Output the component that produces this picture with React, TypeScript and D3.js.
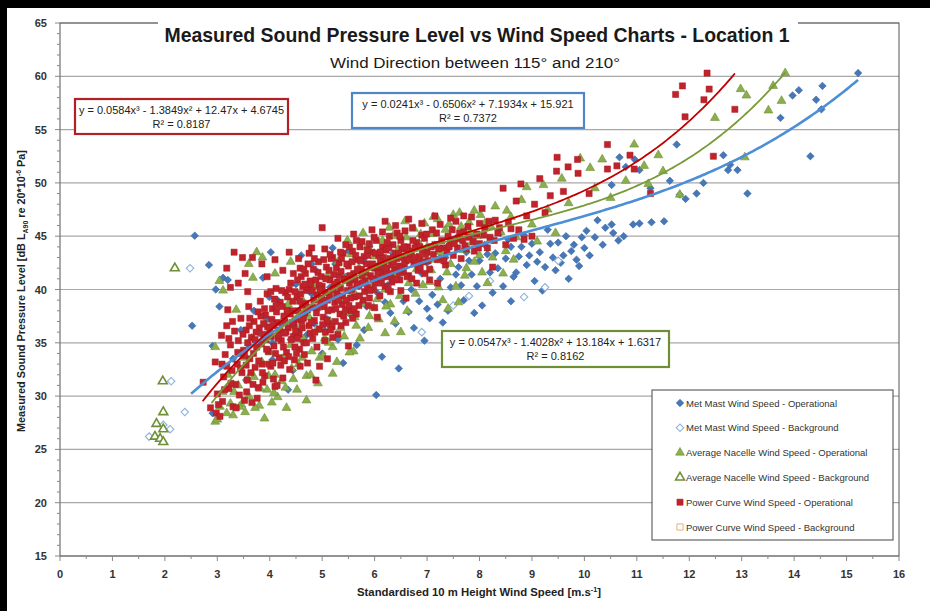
import * as d3 from "d3";

// ---- data (x = wind speed m/s, y = dB) ----
const metMastOp: [number, number][] = [
  [2.57, 45.05], [2.84, 42.3], [2.52, 36.6], [3.11, 41.1], [3.2, 40.9], [2.97, 40.0], [3.04, 38.4], [2.91, 34.7],
  [2.91, 28.4], [4.02, 43.5], [3.87, 41.1], [3.99, 39.3], [4.35, 30.6], [4.44, 32.4],
  [3.3, 33.5], [3.45, 36.2], [3.6, 34.8], [3.7, 38.0], [3.8, 35.9], [3.95, 37.2], [4.05, 35.0], [4.15, 39.0],
  [4.25, 36.8], [4.35, 38.2], [4.5, 40.5], [4.6, 37.6], [4.7, 35.7], [4.8, 39.6], [4.9, 41.7], [5.0, 38.4],
  [5.05, 36.1], [5.15, 40.2], [5.25, 42.4], [5.3, 35.3], [5.35, 39.0], [5.45, 41.2], [5.55, 37.6], [5.66, 34.8],
  [5.7, 40.3], [5.8, 42.6], [5.85, 38.4], [5.95, 41.0], [6.03, 30.1], [6.05, 39.7], [6.14, 33.7], [6.15, 42.1],
  [6.25, 40.4], [6.3, 37.8], [6.35, 43.4], [6.46, 32.6], [6.45, 41.1], [6.55, 38.9], [6.6, 42.7], [6.7, 40.0],
  [6.75, 36.4], [6.8, 43.9], [6.9, 41.5], [6.95, 35.2], [7.0, 42.5], [7.1, 39.5], [7.15, 44.2], [7.25, 41.0],
  [7.3, 36.9], [7.35, 43.0], [7.45, 40.2], [7.5, 44.6], [7.6, 42.1], [7.7, 39.0], [7.75, 43.5], [7.85, 41.4],
  [7.9, 45.0], [8.0, 42.7], [8.05, 38.5], [8.1, 44.2], [8.2, 41.6], [8.3, 43.4], [8.4, 45.3], [8.45, 40.3],
  [8.5, 42.9], [8.6, 44.0], [8.65, 41.2], [8.75, 43.1], [8.85, 45.1], [8.9, 42.3], [9.0, 44.3], [9.05, 40.8],
  [9.15, 43.5], [9.25, 42.1], [9.3, 45.6], [9.4, 43.0], [9.5, 44.4], [9.55, 42.5], [9.65, 45.0], [9.75, 43.6],
  [9.85, 42.8], [9.95, 44.9], [10.04, 45.5], [10.1, 43.2], [10.25, 46.5], [10.35, 44.2], [10.52, 46.1],
  [10.55, 45.3], [10.75, 45.0], [10.52, 49.8], [10.67, 52.4], [10.79, 51.5], [10.93, 46.1], [10.96, 52.2],
  [11.05, 46.2], [11.05, 51.2], [11.26, 49.5], [11.28, 46.3], [11.52, 46.4], [11.63, 50.2], [11.76, 53.6],
  [11.82, 48.9], [11.93, 48.5], [12.14, 49.0], [12.27, 50.0], [12.65, 52.6], [12.74, 51.2], [12.78, 51.7],
  [12.92, 51.2], [13.11, 49.0], [13.74, 56.1], [13.97, 58.2], [14.09, 58.7], [14.31, 52.5], [14.42, 57.8],
  [14.52, 56.9], [14.54, 59.1], [15.22, 60.3],
  [5.5, 43.6], [5.9, 44.0], [6.5, 44.8], [4.6, 43.2], [4.8, 42.4], [5.2, 43.9], [5.0, 34.0], [5.4, 33.1],
  [5.8, 36.2], [7.9, 37.8], [8.6, 38.9], [9.2, 39.9], [9.7, 41.0], [7.0, 38.2],
  [7.25, 43.0], [7.55, 41.4], [7.8, 42.7], [8.15, 43.3], [8.35, 42.0], [8.55, 44.7], [8.8, 44.0], [8.95, 43.2],
  [9.1, 42.6], [9.35, 44.3], [9.45, 41.8], [9.6, 43.2], [9.8, 44.2], [9.9, 42.2], [10.0, 43.9], [10.2, 44.9],
  [10.4, 45.8], [10.65, 44.6], [6.2, 38.8], [6.4, 36.8], [6.65, 37.9], [6.85, 38.9], [7.05, 37.3], [7.2, 38.6],
  [7.4, 38.0], [7.65, 40.4], [7.95, 40.3], [8.25, 39.7], [8.7, 41.6], [5.1, 37.2], [5.6, 39.4], [4.4, 35.3],
  [4.05, 33.4], [3.55, 31.5], [4.85, 36.8],
];

const metMastBg: [number, number][] = [
  [2.48, 42.0], [2.12, 31.4], [2.38, 28.5], [1.97, 27.3], [2.1, 26.9], [1.7, 26.2], [6.9, 36.0], [7.8, 39.4],
  [8.85, 39.3], [9.25, 40.2], [8.2, 40.8], [7.5, 38.5], [9.5, 42.7],
];

const nacelleOp: [number, number][] = [
  [2.96, 27.6], [3.3, 28.2], [3.46, 29.2], [3.53, 28.5], [4.04, 29.4], [2.96, 34.6], [3.36, 38.1], [3.11, 39.9],
  [3.04, 40.8], [3.68, 41.1], [3.75, 43.5], [3.86, 43.0],
  [3.1, 30.4], [3.2, 32.0], [3.25, 29.3], [3.4, 31.0], [3.5, 33.6], [3.6, 30.0], [3.65, 35.4], [3.7, 31.8],
  [3.8, 29.1], [3.85, 33.2], [3.9, 36.7], [3.95, 30.6], [4.0, 34.1], [4.1, 32.0], [4.15, 29.9], [4.2, 36.2],
  [4.25, 33.5], [4.3, 30.8], [4.35, 38.6], [4.4, 34.8], [4.45, 31.6], [4.5, 36.5], [4.55, 33.0], [4.6, 39.2],
  [4.65, 35.3], [4.7, 31.9], [4.75, 37.4], [4.8, 34.2], [4.85, 40.2], [4.9, 36.2], [4.95, 33.6],
  [5.0, 38.4], [5.05, 35.4], [5.1, 41.3], [5.15, 37.0], [5.2, 34.6], [5.25, 39.4], [5.3, 42.6], [5.35, 36.4],
  [5.4, 38.9], [5.45, 41.0], [5.5, 37.8], [5.55, 43.3], [5.6, 39.8], [5.65, 36.6], [5.7, 42.0], [5.75, 38.7],
  [5.8, 41.1], [5.85, 44.0], [5.9, 37.5], [5.95, 40.3],
  [6.0, 43.1], [6.05, 39.1], [6.1, 41.8], [6.15, 44.6], [6.2, 40.0], [6.25, 42.7], [6.3, 38.6], [6.35, 45.0],
  [6.4, 41.4], [6.45, 43.8], [6.5, 36.0], [6.55, 42.2], [6.6, 44.9], [6.65, 40.6], [6.7, 43.3], [6.75, 45.7],
  [6.8, 41.9], [6.85, 44.3], [6.9, 42.6], [6.95, 46.2],
  [7.0, 44.0], [7.05, 40.7], [7.1, 45.2], [7.15, 42.8], [7.2, 46.6], [7.25, 43.5], [7.3, 39.0], [7.35, 45.6],
  [7.4, 44.1], [7.45, 42.4], [7.5, 47.0], [7.55, 44.7], [7.6, 38.8], [7.65, 45.9], [7.7, 43.7], [7.75, 42.0],
  [7.8, 46.3], [7.85, 44.4], [7.9, 47.4], [7.95, 45.0],
  [8.0, 43.2], [8.1, 46.2], [8.2, 44.6], [8.3, 47.8], [8.4, 45.4], [8.5, 43.6], [8.6, 46.8], [8.7, 44.9],
  [8.8, 48.4], [8.9, 49.6], [9.0, 46.1], [9.1, 44.5], [9.22, 49.8], [9.3, 47.5], [9.45, 45.3], [9.57, 50.4],
  [9.7, 48.1], [9.92, 52.3], [10.11, 51.4], [10.2, 49.5], [10.34, 52.2], [10.5, 48.6], [10.79, 50.2],
  [10.95, 53.6], [11.14, 51.6], [11.22, 49.9], [11.41, 52.6], [11.5, 51.1], [11.82, 48.9], [12.49, 56.1],
  [12.98, 58.8], [13.09, 58.2], [13.06, 52.4], [13.51, 56.8], [13.6, 59.1], [13.76, 57.7], [13.83, 60.3],
  [3.9, 27.9], [3.0, 27.8], [7.4, 38.2], [5.6, 34.2], [6.2, 35.9], [8.15, 40.6], [4.7, 29.6], [5.2, 32.1],
  [3.05, 29.0], [3.18, 28.4], [3.32, 30.4], [3.42, 29.0], [3.58, 31.6], [3.72, 28.9], [3.82, 30.7], [3.98, 31.9],
  [4.08, 30.3], [4.22, 31.4], [4.32, 28.9], [4.42, 32.6], [4.52, 30.6], [4.62, 33.6], [4.78, 32.0], [4.92, 31.2],
  [5.02, 33.8], [5.12, 35.0], [5.28, 33.2], [5.42, 35.6], [5.52, 34.1], [5.62, 37.4], [5.72, 35.4], [5.88, 36.4],
  [5.98, 38.3], [6.08, 37.2], [6.22, 38.4], [6.38, 37.0], [6.48, 39.4], [6.62, 38.0], [6.78, 39.6], [6.92, 40.4],
  [7.08, 41.8], [7.22, 40.2], [7.38, 41.6], [7.55, 40.3], [7.72, 41.3], [7.9, 42.6], [8.05, 41.6], [8.25, 43.0],
  [8.45, 41.5], [8.65, 42.8], [6.28, 45.8], [6.58, 46.4], [6.88, 45.2], [7.12, 46.8], [7.42, 46.1], [7.62, 47.2],
  [7.82, 45.4], [8.02, 47.0], [8.22, 45.9], [8.52, 47.4], [5.48, 44.6], [5.78, 45.3], [4.4, 42.6], [4.1, 41.5],
  [3.6, 42.4],
];

const nacelleBg: [number, number][] = [
  [2.19, 42.0], [1.96, 31.4], [1.97, 28.5], [1.84, 27.4], [1.97, 26.9], [1.81, 26.2], [1.91, 26.0], [1.97, 25.7],
];

const powerCurveOp: [number, number][] = [
  [2.73, 31.3], [2.87, 28.9], [2.98, 28.4], [3.05, 28.1], [2.96, 33.2], [3.08, 35.7], [3.18, 36.6], [3.2, 38.1],
  [3.0, 30.2], [3.1, 29.5], [3.12, 31.8], [3.15, 33.9], [3.22, 30.7], [3.25, 34.8], [3.28, 32.4], [3.3, 29.0],
  [3.33, 36.1], [3.35, 31.1], [3.38, 33.0], [3.4, 35.2], [3.42, 30.1], [3.45, 37.3], [3.47, 32.2], [3.5, 34.3],
  [3.52, 29.6], [3.55, 36.2], [3.57, 31.5], [3.6, 38.4], [3.62, 33.5], [3.65, 35.5], [3.66, 29.4], [3.7, 37.0],
  [3.72, 32.7], [3.75, 34.6], [3.78, 30.8], [3.8, 36.4], [3.82, 38.9], [3.85, 33.0], [3.88, 35.8], [3.9, 31.9],
  [3.92, 37.6], [3.95, 39.6], [3.97, 34.2],
  [3.18, 42.0], [3.32, 43.5], [3.48, 43.0], [3.67, 43.0], [3.53, 41.5], [3.25, 40.2], [3.58, 39.8], [3.85, 42.4],
  [4.37, 43.5], [4.1, 42.8], [3.95, 41.2], [4.25, 41.8], [3.4, 40.6],
  [4.0, 36.0], [4.02, 32.8], [4.05, 38.2], [4.08, 34.7], [4.1, 30.9], [4.12, 40.1], [4.15, 36.9], [4.18, 33.6],
  [4.2, 38.8], [4.22, 35.2], [4.25, 31.7], [4.27, 37.5], [4.3, 39.7], [4.32, 34.1], [4.35, 36.4], [4.38, 32.5],
  [4.4, 40.6], [4.42, 38.0], [4.45, 35.6], [4.47, 33.4], [4.5, 37.2], [4.52, 39.3], [4.55, 36.0], [4.57, 34.4],
  [4.6, 41.2], [4.62, 38.5], [4.65, 35.0], [4.67, 37.8], [4.7, 39.9], [4.72, 33.1], [4.75, 36.6], [4.77, 40.8],
  [4.8, 38.3], [4.82, 35.4], [4.85, 37.1], [4.88, 31.5], [4.9, 39.5], [4.92, 41.6], [4.95, 36.3], [4.97, 38.7],
  [5.0, 40.3], [5.02, 37.4], [5.05, 35.2], [5.08, 42.1], [5.1, 39.0], [5.12, 36.8], [5.15, 40.9], [5.18, 38.1],
  [5.2, 43.0], [5.22, 41.4], [5.25, 37.0], [5.28, 39.6], [5.3, 35.8], [5.32, 42.5], [5.35, 40.1], [5.38, 38.6],
  [5.4, 43.4], [5.42, 41.0], [5.45, 36.9], [5.48, 39.9], [5.5, 42.2], [5.52, 40.6], [5.55, 38.0], [5.58, 43.6],
  [5.6, 41.5], [5.62, 39.3], [5.65, 37.7], [5.68, 42.8], [5.7, 40.4], [5.72, 44.0], [5.75, 41.9], [5.78, 39.0],
  [5.8, 43.1], [5.82, 40.8], [5.85, 42.4], [5.88, 38.5], [5.9, 44.3], [5.92, 41.3], [5.95, 43.5], [5.98, 40.0],
  [6.0, 42.0], [6.03, 44.6], [6.05, 40.9], [6.08, 43.2], [6.1, 39.4], [6.12, 41.7], [6.15, 44.0], [6.18, 42.5],
  [6.2, 40.3], [6.22, 43.7], [6.25, 41.2], [6.28, 45.0], [6.3, 42.9], [6.33, 40.7], [6.35, 44.2], [6.38, 41.9],
  [6.4, 43.4], [6.43, 45.3], [6.45, 42.2], [6.48, 40.9], [6.5, 44.6], [6.53, 43.0], [6.55, 41.6], [6.58, 45.5],
  [6.6, 42.7], [6.63, 44.0], [6.65, 41.3], [6.7, 43.6], [6.72, 45.8], [6.75, 42.4], [6.8, 44.4], [6.83, 41.8],
  [6.85, 43.1], [6.9, 45.1], [6.93, 42.6], [6.95, 44.8],
  [7.0, 43.5], [7.05, 41.9], [7.1, 45.6], [7.15, 44.2], [7.2, 42.8], [7.25, 46.1], [7.3, 43.9], [7.35, 42.3],
  [7.4, 45.0], [7.45, 44.5], [7.5, 43.2], [7.55, 46.4], [7.6, 44.8], [7.65, 42.9], [7.7, 45.4], [7.75, 43.8],
  [7.8, 44.9], [7.85, 46.8], [7.9, 43.6], [7.95, 45.2],
  [8.0, 44.3], [8.05, 47.6], [8.1, 45.8], [8.15, 43.9], [8.2, 44.9], [8.3, 46.5], [8.35, 45.3], [8.45, 49.5],
  [8.5, 44.2], [8.6, 45.7], [8.7, 48.3], [8.79, 49.9], [8.85, 44.7], [8.9, 46.9], [9.0, 45.0], [9.05, 48.0],
  [9.15, 50.4], [9.25, 47.2], [9.47, 51.1], [9.48, 52.4], [9.69, 51.5], [9.87, 52.2], [9.88, 50.9], [9.6, 49.2],
  [9.35, 48.8], [10.09, 49.0], [10.44, 51.3], [10.44, 53.6], [10.62, 51.6], [10.87, 52.6], [10.95, 51.3],
  [11.26, 49.0], [11.74, 58.3], [11.87, 59.1], [11.92, 56.2], [12.28, 57.8], [12.34, 60.3], [12.38, 58.8],
  [12.46, 52.5], [12.87, 56.9],
  [5.1, 33.5], [5.5, 34.7], [4.95, 32.8], [6.05, 37.4], [6.6, 39.2], [7.2, 40.6], [8.25, 42.1],
  [5.0, 45.8], [5.3, 44.8], [5.6, 45.2], [6.2, 46.4], [4.8, 43.9],
  [3.52, 33.8], [3.58, 35.0], [3.64, 32.2], [3.69, 34.0], [3.74, 36.0], [3.79, 33.3], [3.84, 34.9], [3.87, 31.3],
  [3.93, 35.3], [3.98, 33.0], [4.03, 35.6], [4.07, 31.6], [4.11, 34.0], [4.16, 35.4], [4.21, 32.9], [4.26, 34.6],
  [4.31, 36.0], [4.36, 33.7], [4.41, 35.3], [4.46, 36.7], [4.51, 34.0], [4.56, 35.8], [4.61, 37.0], [4.66, 33.9],
  [3.83, 37.5], [3.9, 38.2], [3.96, 36.5], [4.04, 37.2], [4.09, 39.1], [4.13, 37.9], [4.19, 36.2], [4.24, 38.4],
  [4.29, 37.0], [4.34, 39.3], [4.39, 37.7], [4.44, 38.9], [4.49, 36.1], [4.54, 38.0], [4.59, 39.6], [4.64, 37.3],
  [4.69, 38.7], [4.74, 40.2], [4.79, 36.9], [4.84, 39.0], [4.89, 37.8], [4.94, 40.4], [4.99, 39.2], [5.04, 38.4],
  [5.09, 37.1], [5.14, 39.5], [5.19, 36.5], [5.24, 38.8], [5.29, 40.7], [5.34, 37.7], [5.39, 39.4], [5.44, 38.1],
  [5.49, 40.9], [5.54, 39.2],
  [4.53, 40.9], [4.58, 42.0], [4.63, 40.3], [4.68, 41.5], [4.73, 42.4], [4.78, 40.5], [4.83, 41.9], [4.88, 40.9],
  [4.93, 42.6], [4.98, 41.2], [5.03, 42.8], [5.07, 41.0], [5.13, 41.8], [5.17, 42.9], [5.23, 40.5], [5.27, 42.0],
  [5.33, 41.3], [5.37, 42.9], [5.43, 40.9], [5.47, 42.4], [5.53, 41.3], [5.57, 42.6], [5.63, 40.9], [5.67, 41.9],
  [5.73, 42.7], [5.77, 40.6], [5.83, 41.6], [5.87, 43.2], [5.93, 42.1], [5.97, 41.0], [6.02, 43.4], [6.07, 42.2],
  [6.13, 40.6], [6.17, 43.0], [6.23, 41.8], [6.27, 43.9], [6.32, 42.3], [6.37, 40.9], [6.42, 42.9], [6.47, 41.6],
  [6.52, 43.8], [6.57, 42.4], [6.62, 41.2], [6.67, 43.2], [6.77, 43.9], [6.87, 42.1], [6.97, 43.3],
  [5.52, 44.0], [5.64, 43.2], [5.76, 44.5], [5.86, 43.7], [5.99, 44.9], [6.11, 43.5], [6.24, 44.4], [6.36, 43.0],
  [6.48, 45.0], [6.61, 43.8], [6.73, 44.6], [6.86, 44.0], [6.99, 45.2], [7.08, 44.0], [7.18, 45.3], [7.28, 44.6],
  [7.38, 43.6], [7.48, 45.6], [7.58, 43.9], [7.68, 44.6], [7.78, 45.9], [7.88, 44.5], [7.98, 43.9], [8.08, 45.1],
  [8.18, 46.4], [8.28, 44.6], [8.38, 45.8], [8.55, 46.3], [8.65, 44.8], [8.75, 45.6],
  [3.02, 29.2], [3.14, 30.6], [3.26, 31.2], [3.36, 28.9], [3.44, 32.6], [3.56, 30.4], [3.68, 31.1], [3.76, 29.8],
  [3.86, 32.2], [4.06, 33.1], [4.14, 31.0], [4.28, 33.3], [4.48, 34.6], [4.58, 32.8], [4.7, 35.0], [4.9, 34.6],
  [5.06, 36.0], [5.2, 35.5], [5.36, 36.6], [5.58, 37.3], [5.7, 38.5], [5.9, 39.2], [6.0, 38.3], [6.3, 39.8],
  [6.5, 39.9], [6.8, 40.6], [7.05, 40.9],
  [4.02, 39.8], [4.07, 36.6], [4.12, 38.5], [4.17, 35.7], [4.23, 39.9], [4.28, 35.9], [4.33, 38.0], [4.37, 40.0],
  [4.43, 36.9], [4.48, 39.8], [4.53, 35.4], [4.57, 38.9], [4.62, 36.4], [4.67, 40.5], [4.72, 38.1], [4.77, 35.9],
  [4.81, 39.9], [4.86, 36.0], [4.91, 38.3], [4.96, 40.0], [5.01, 36.7], [5.06, 39.7], [5.11, 38.0], [5.16, 36.2],
  [5.21, 40.0], [5.26, 38.2], [5.31, 39.0], [5.36, 41.7], [5.41, 37.5], [5.46, 39.0], [5.51, 38.5], [5.56, 40.0],
  [5.61, 38.2], [5.66, 40.5], [5.71, 39.4], [5.76, 41.3], [5.81, 39.8], [5.86, 40.2], [5.91, 39.9], [5.96, 42.4],
  [6.01, 40.6], [6.06, 41.5], [6.11, 42.6], [6.16, 41.2], [6.21, 42.0], [6.26, 40.0], [6.31, 41.5], [6.36, 42.6],
  [6.41, 41.0], [6.46, 43.3], [6.51, 42.0], [6.56, 44.0], [6.66, 42.8], [6.71, 41.0], [6.76, 43.0], [6.81, 42.5],
  [6.91, 43.7], [6.96, 41.5], [7.02, 42.7], [7.12, 43.3], [7.22, 43.8], [7.32, 42.7], [7.42, 44.0], [7.52, 44.3],
  [7.62, 45.3], [7.72, 44.1], [3.45, 34.0], [3.55, 32.9], [3.62, 37.3], [3.72, 35.3], [3.78, 37.9], [3.88, 36.8],
  [3.94, 34.4], [3.61, 36.6], [3.49, 35.8], [3.39, 34.1], [3.29, 37.0], [3.22, 35.4], [3.18, 32.8], [3.09, 33.0],
  [4.45, 41.5], [4.55, 42.9], [4.65, 41.9], [4.85, 42.9], [4.75, 43.4], [5.05, 43.8], [5.15, 43.3], [5.35, 43.5],
  [5.45, 44.2], [5.65, 44.6], [5.95, 45.6], [6.15, 45.4], [6.4, 46.0], [6.65, 46.6], [6.9, 46.2], [7.15, 46.9],
  [7.45, 46.7], [7.7, 46.9], [8.0, 46.2],
];

const powerCurveBg: [number, number][] = [];

// cubic trendline coefficients (x³, x², x, 1) and the x span Excel drew them over
const metMastFit = [0.0241, -0.6506, 7.1934, 15.921];
const nacelleFit = [0.0547, -1.4028, 13.184, 1.6317];
const powerCurveFit = [0.0584, -1.3849, 12.47, 4.6745];
const metMastSpan = [2.5, 15.22];
const nacelleSpan = [2.89, 13.83];
const powerCurveSpan = [2.72, 12.87];

const xTicks = d3.range(0, 17, 1);
const yTicks = d3.range(15, 66, 5);

const legendLabels = [
  "Met Mast Wind Speed - Operational",
  "Met Mast Wind Speed - Background",
  "Average Nacelle Wind Speed - Operational",
  "Average Nacelle Wind Speed - Background",
  "Power Curve Wind Speed - Operational",
  "Power Curve Wind Speed - Background",
];

const W = 930;
const H = 611;
const plot = { left: 60, right: 899, top: 23, bottom: 556 };
const FONT = "'Liberation Sans', Arial, sans-serif";

const BLUE = "#4677b8";
const BLUE_LIGHT = "#8fb3de";
const GREEN = "#8aaf4c";
const GREEN_DARK = "#6f8f36";
const RED = "#c0232b";
const ORANGE_LIGHT = "#e2b27e";

const x = d3.scaleLinear().domain([0, 16]).range([plot.left, plot.right]);
const y = d3.scaleLinear().domain([15, 65]).range([plot.bottom, plot.top]);

const diamondPath = d3.symbol(d3.symbolSquare, 28)()!;
const trianglePath = d3.symbol(d3.symbolTriangle, 34)()!;
const squarePath = d3.symbol(d3.symbolSquare, 38)()!;

type MarkerKind = "diamond" | "diamondOpen" | "tri" | "triOpen" | "square" | "squareOpen";

function Marker({ kind, cx, cy }: { kind: MarkerKind; cx: number; cy: number }) {
  const t = `translate(${cx},${cy})`;
  switch (kind) {
    case "diamond":
      return <path d={diamondPath} transform={`${t} rotate(45)`} fill={BLUE} stroke="#3b68a3" strokeWidth={0.6} />;
    case "diamondOpen":
      return <path d={diamondPath} transform={`${t} rotate(45)`} fill="#fff" stroke={BLUE_LIGHT} strokeWidth={1.1} />;
    case "tri":
      return <path d={trianglePath} transform={t} fill={GREEN} stroke={GREEN_DARK} strokeWidth={0.6} />;
    case "triOpen":
      return <path d={trianglePath} transform={t} fill="#fff" stroke={GREEN_DARK} strokeWidth={1.6} />;
    case "square":
      return <path d={squarePath} transform={t} fill={RED} stroke="#a81c22" strokeWidth={0.5} />;
    default:
      return <path d={squarePath} transform={t} fill="#fff" stroke={ORANGE_LIGHT} strokeWidth={1} />;
  }
}

function trend(coefs: number[], span: number[]) {
  const xs = d3.range(span[0], span[1], 0.05).concat([span[1]]);
  const line = d3
    .line<number>()
    .x((v) => x(v))
    .y((v) => y(((coefs[0] * v + coefs[1]) * v + coefs[2]) * v + coefs[3]))
    .curve(d3.curveMonotoneX);
  return line(xs)!;
}

function EqBox(props: { x0: number; y0: number; w: number; h: number; color: string; eq: string; r2: string }) {
  const { x0, y0, w, h, color, eq, r2 } = props;
  const cx = x0 + w / 2;
  return (
    <g>
      <rect x={x0} y={y0} width={w} height={h} fill="#fff" stroke={color} strokeWidth={2.2} />
      <text x={cx} y={y0 + 15} textAnchor="middle" fontSize={11} fill="#222" fontFamily={FONT}>
        {eq}
      </text>
      <text x={cx} y={y0 + 29} textAnchor="middle" fontSize={11} fill="#222" fontFamily={FONT}>
        {r2}
      </text>
    </g>
  );
}

export default function App() {
  const minorY = d3.range(15, 65.01, 1);
  const minorX = d3.range(0, 16.01, 0.5);
  const legendKinds: MarkerKind[] = ["diamond", "diamondOpen", "tri", "triOpen", "square", "squareOpen"];

  return (
    <svg width={W} height={H} style={{ position: "absolute", left: 0, top: 0, background: "#fff" }}>
      <rect x={0} y={0} width={W} height={H} fill="#fff" />
      {/* black scan edges */}
      <rect x={0} y={0} width={W} height={8} fill="#000" />
      <rect x={0} y={0} width={7} height={H} fill="#000" />

      {/* gridlines */}
      {yTicks.map((t) => (
        <line key={`g${t}`} x1={plot.left} x2={plot.right} y1={y(t)} y2={y(t)} stroke="#a8a8a8" strokeWidth={1.2} />
      ))}

      {/* plot frame */}
      <rect
        x={plot.left}
        y={plot.top}
        width={plot.right - plot.left}
        height={plot.bottom - plot.top}
        fill="none"
        stroke="#555"
        strokeWidth={1}
      />

      {/* y axis ticks */}
      {minorY.map((t) => (
        <line
          key={`ym${t}`}
          x1={plot.left - (t % 5 === 0 ? 5 : 3)}
          x2={plot.left}
          y1={y(t)}
          y2={y(t)}
          stroke="#888"
        />
      ))}
      {yTicks.map((t) => (
        <text key={`yl${t}`} x={47} y={y(t) + 4} textAnchor="end" fontSize={11} fontWeight="bold" fill="#333" fontFamily={FONT}>
          {t}
        </text>
      ))}

      {/* x axis ticks */}
      {minorX.map((t) => (
        <line
          key={`xm${t}`}
          x1={x(t)}
          x2={x(t)}
          y1={plot.bottom}
          y2={plot.bottom + (Number.isInteger(t) ? 5 : 3)}
          stroke="#888"
        />
      ))}
      {xTicks.map((t) => (
        <text key={`xl${t}`} x={x(t)} y={578} textAnchor="middle" fontSize={11} fontWeight="bold" fill="#333" fontFamily={FONT}>
          {t}
        </text>
      ))}

      {/* axis titles */}
      <text x={479} y={596} textAnchor="middle" fontSize={11} fontWeight="bold" fill="#222" fontFamily={FONT} textLength={244} lengthAdjust="spacingAndGlyphs">
        Standardised  10 m Height Wind Speed [m.s<tspan dy={-4} fontSize={7}>-1</tspan><tspan dy={4}>]</tspan>
      </text>
      <text
        transform={`translate(25,291) rotate(-90)`}
        textAnchor="middle"
        fontSize={11}
        fontWeight="bold"
        fill="#222"
        fontFamily={FONT}
        textLength={282}
        lengthAdjust="spacingAndGlyphs"
      >
        Measured  Sound Pressure Level [dB L<tspan dy={3} fontSize={7}>A90</tspan>
        <tspan dy={-3}> re 20*10</tspan>
        <tspan dy={-4} fontSize={7}>-6</tspan>
        <tspan dy={4}> Pa]</tspan>
      </text>

      {/* scatter */}
      <g>
        {metMastOp.map(([a, b], i) => (
          <Marker key={`mo${i}`} kind="diamond" cx={x(a)} cy={y(b)} />
        ))}
        {metMastBg.map(([a, b], i) => (
          <Marker key={`mb${i}`} kind="diamondOpen" cx={x(a)} cy={y(b)} />
        ))}
        {nacelleOp.map(([a, b], i) => (
          <Marker key={`no${i}`} kind="tri" cx={x(a)} cy={y(b)} />
        ))}
        {nacelleBg.map(([a, b], i) => (
          <Marker key={`nb${i}`} kind="triOpen" cx={x(a)} cy={y(b)} />
        ))}
        {powerCurveOp.map(([a, b], i) => (
          <Marker key={`po${i}`} kind="square" cx={x(a)} cy={y(b)} />
        ))}
        {powerCurveBg.map(([a, b], i) => (
          <Marker key={`pb${i}`} kind="squareOpen" cx={x(a)} cy={y(b)} />
        ))}
      </g>

      {/* trend lines */}
      <path d={trend(metMastFit, metMastSpan)} fill="none" stroke="#4d8fd6" strokeWidth={2.6} />
      <path d={trend(nacelleFit, nacelleSpan)} fill="none" stroke="#7a9a3a" strokeWidth={1.8} />
      <path d={trend(powerCurveFit, powerCurveSpan)} fill="none" stroke="#c00000" strokeWidth={1.8} />

      {/* title */}
      <rect x={158} y={12} width={640} height={38} fill="#fff" />
      <text x={477} y={42} textAnchor="middle" fontSize={21} fontWeight="bold" fill="#1a1a1a" fontFamily={FONT} textLength={625} lengthAdjust="spacingAndGlyphs">
        Measured Sound Pressure Level vs Wind Speed Charts - Location 1
      </text>
      <text x={475} y={68} textAnchor="middle" fontSize={14} fill="#1a1a1a" fontFamily={FONT} textLength={290} lengthAdjust="spacingAndGlyphs">
        Wind Direction between 115°  and 210°
      </text>

      {/* equation boxes */}
      <EqBox x0={75} y0={99} w={213} h={35} color="#b21f24" eq="y = 0.0584x³ - 1.3849x² + 12.47x + 4.6745" r2="R² = 0.8187" />
      <EqBox x0={352} y0={93} w={232} h={35} color="#4f86c6" eq="y = 0.0241x³ - 0.6506x² + 7.1934x + 15.921" r2="R² = 0.7372" />
      <EqBox x0={442} y0={331} w={227} h={36} color="#6f8f36" eq="y = 0.0547x³ - 1.4028x² + 13.184x + 1.6317" r2="R² = 0.8162" />

      {/* legend */}
      <rect x={652} y={390} width={241} height={150} fill="#fff" stroke="#444" strokeWidth={1} />
      {legendLabels.map((lab, i) => {
        const ly = 403 + i * 24.8;
        return (
          <g key={lab}>
            <Marker kind={legendKinds[i]} cx={680} cy={ly} />
            <text x={686} y={ly + 3.5} fontSize={9.5} fill="#333" fontFamily={FONT}>
              {lab}
            </text>
          </g>
        );
      })}
    </svg>
  );
}
